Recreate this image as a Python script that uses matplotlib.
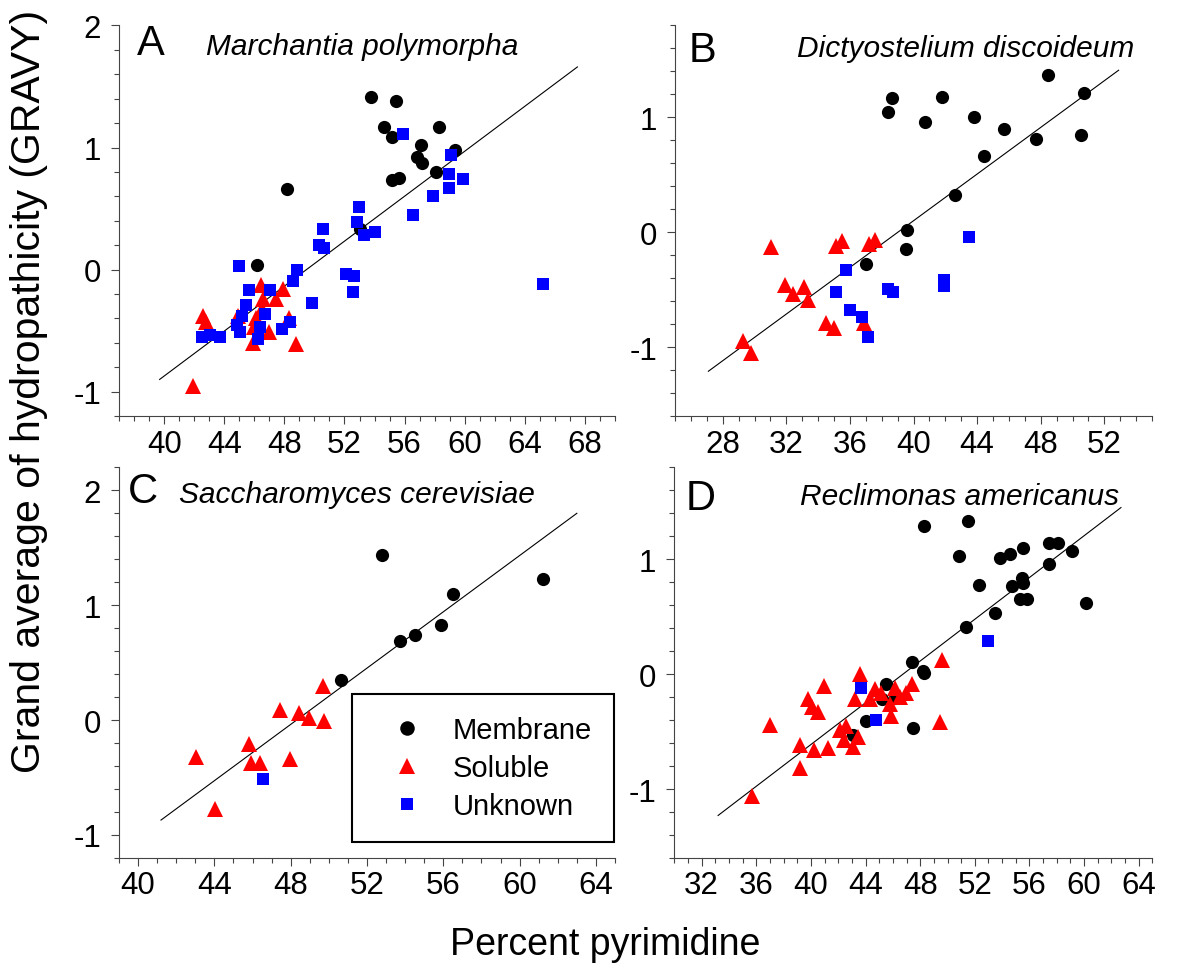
import numpy as np
import matplotlib
matplotlib.use("Agg")
import matplotlib.pyplot as plt
from matplotlib.ticker import MultipleLocator

plt.rcParams['font.family'] = ['Liberation Sans', 'DejaVu Sans']
plt.rcParams['axes.unicode_minus'] = False

# ---- data ----
# A  Marchantia polymorpha
a_mem_x = [53.75, 55.41, 54.61, 58.31, 55.17, 57.12, 59.36, 56.81, 57.18, 58.09, 55.19, 55.65, 48.16, 53.02, 46.21]
a_mem_y = [1.41, 1.38, 1.17, 1.17, 1.09, 1.02, 0.98, 0.92, 0.87, 0.80, 0.73, 0.75, 0.66, 0.33, 0.04]
a_sol_x = [46.45, 47.89, 46.56, 47.45, 42.57, 42.79, 44.90, 46.12, 48.33, 47.00, 45.90, 48.78, 41.90, 46.5, 46.0]
a_sol_y = [-0.13, -0.16, -0.24, -0.24, -0.38, -0.43, -0.38, -0.40, -0.40, -0.51, -0.60, -0.61, -0.95, -0.32, -0.47]
a_unk_x = [55.9, 59.09, 58.98, 59.87, 58.98, 57.87, 56.59, 52.99, 52.84, 53.30, 54.01, 50.6, 50.31, 50.67,
           48.87, 48.58, 49.87, 52.08, 52.62, 52.6, 65.21, 45.01, 45.63, 47.07, 45.48, 45.19, 46.7, 44.83,
           45.08, 46.41, 46.25, 48.38, 47.83, 42.51, 43.04, 43.7]
a_unk_y = [1.11, 0.94, 0.78, 0.74, 0.67, 0.60, 0.45, 0.51, 0.39, 0.28, 0.31, 0.33, 0.20, 0.18,
           0.00, -0.09, -0.27, -0.04, -0.05, -0.18, -0.12, 0.03, -0.17, -0.17, -0.29, -0.38, -0.36, -0.45,
           -0.51, -0.47, -0.57, -0.43, -0.49, -0.55, -0.54, -0.55]
a_fit_x = [39.7, 67.5]
a_fit_y = [-0.90, 1.66]

# B  Dictyostelium discoideum
b_mem_x = [48.48, 50.74, 38.64, 41.78, 38.39, 40.75, 43.83, 45.72, 47.71, 50.53, 44.42, 42.62, 39.58, 39.5, 37.0]
b_mem_y = [1.37, 1.21, 1.17, 1.18, 1.05, 0.96, 1.00, 0.90, 0.81, 0.85, 0.66, 0.32, 0.02, -0.15, -0.28]
b_sol_x = [29.26, 29.78, 31.04, 31.94, 32.42, 33.09, 33.36, 35.1, 35.52, 37.17, 37.61, 34.51, 35.02, 36.9]
b_sol_y = [-0.95, -1.05, -0.13, -0.46, -0.54, -0.48, -0.59, -0.12, -0.08, -0.10, -0.07, -0.79, -0.83, -0.79]
b_unk_x = [43.52, 35.77, 35.14, 35.98, 36.77, 37.11, 38.39, 38.68, 41.89, 41.93]
b_unk_y = [-0.04, -0.33, -0.52, -0.68, -0.74, -0.91, -0.49, -0.52, -0.42, -0.47]
b_fit_x = [27.1, 52.9]
b_fit_y = [-1.21, 1.41]

# C  Saccharomyces cerevisiae
c_mem_x = [52.81, 61.21, 56.52, 55.86, 54.51, 53.72, 50.65]
c_mem_y = [1.44, 1.23, 1.10, 0.83, 0.74, 0.69, 0.35]
c_sol_x = [49.67, 47.45, 48.44, 48.95, 49.74, 45.82, 43.02, 45.93, 46.38, 47.97, 44.02]
c_sol_y = [0.30, 0.09, 0.06, 0.02, -0.01, -0.21, -0.32, -0.37, -0.37, -0.34, -0.77]
c_unk_x = [46.57]
c_unk_y = [-0.51]
c_fit_x = [41.2, 63.0]
c_fit_y = [-0.87, 1.80]

# D  Reclimonas americanus
d_mem_x = [48.27, 51.51, 50.83, 53.85, 54.59, 55.54, 57.46, 58.12, 59.1, 57.44, 55.44, 55.54, 54.71, 52.34,
           55.29, 55.85, 60.17, 53.51, 51.37, 47.37, 48.24, 48.3, 45.49, 44.0, 47.49, 45.17, 46.15, 43.1]
d_mem_y = [1.29, 1.33, 1.03, 1.01, 1.05, 1.10, 1.14, 1.14, 1.07, 0.96, 0.84, 0.79, 0.77, 0.78,
           0.65, 0.65, 0.62, 0.53, 0.41, 0.11, 0.03, 0.01, -0.09, -0.41, -0.47, -0.22, -0.21, -0.53]
d_sol_x = [35.66, 37.02, 39.2, 39.2, 40.22, 41.27, 39.78, 40.05, 40.54, 40.93, 43.59, 43.22, 42.12, 42.54,
           42.41, 43.05, 43.46, 44.32, 44.71, 45.1, 45.78, 46.15, 46.51, 46.95, 47.37, 45.83, 49.63, 49.44]
d_sol_y = [-1.06, -0.44, -0.82, -0.62, -0.66, -0.64, -0.22, -0.29, -0.33, -0.10, 0.00, -0.22, -0.49, -0.45,
           -0.57, -0.63, -0.55, -0.22, -0.13, -0.16, -0.26, -0.12, -0.20, -0.16, -0.09, -0.36, 0.12, -0.42]
d_unk_x = [52.98, 43.63, 44.73]
d_unk_y = [0.29, -0.12, -0.40]
d_fit_x = [33.2, 62.7]
d_fit_y = [-1.23, 1.45]

panels = [
    dict(letter='A', name='Marchantia polymorpha', mem=(a_mem_x, a_mem_y), sol=(a_sol_x, a_sol_y),
         unk=(a_unk_x, a_unk_y), fit=(a_fit_x, a_fit_y), xlim=(37, 70), ylim=(-1.2, 2.0),
         xticks=np.arange(40, 69, 4), yticks=[-1, 0, 1, 2],
         rect=[0.0992, 0.574, 0.4133, 0.399], lpos=(0.036, 0.927), npos=(0.175, 0.927)),
    dict(letter='B', name='Dictyostelium discoideum', mem=(b_mem_x, b_mem_y), sol=(b_sol_x, b_sol_y),
         unk=(b_unk_x, b_unk_y), fit=(b_fit_x, b_fit_y), xlim=(25, 55), ylim=(-1.6, 1.8),
         xticks=np.arange(28, 53, 4), yticks=[-1, 0, 1],
         rect=[0.5625, 0.574, 0.3975, 0.399], lpos=(0.028, 0.91), npos=(0.255, 0.923)),
    dict(letter='C', name='Saccharomyces cerevisiae', mem=(c_mem_x, c_mem_y), sol=(c_sol_x, c_sol_y),
         unk=(c_unk_x, c_unk_y), fit=(c_fit_x, c_fit_y), xlim=(39, 65), ylim=(-1.2, 2.2),
         xticks=np.arange(40, 65, 4), yticks=[-1, 0, 1, 2],
         rect=[0.0992, 0.1226, 0.4133, 0.399], lpos=(0.018, 0.912), npos=(0.12, 0.912)),
    dict(letter='D', name='Reclimonas americanus', mem=(d_mem_x, d_mem_y), sol=(d_sol_x, d_sol_y),
         unk=(d_unk_x, d_unk_y), fit=(d_fit_x, d_fit_y), xlim=(30, 65), ylim=(-1.6, 1.8),
         xticks=np.arange(32, 65, 4), yticks=[-1, 0, 1],
         rect=[0.562, 0.1226, 0.3983, 0.399], lpos=(0.024, 0.894), npos=(0.263, 0.905)),
]

fig = plt.figure(figsize=(12, 9.79), dpi=100)
axes = []
for p in panels:
    ax = fig.add_axes(p['rect'])
    axes.append(ax)
    ax.plot(p['fit'][0], p['fit'][1], color='black', linewidth=0.8, zorder=1)
    ax.plot(p['mem'][0], p['mem'][1], 'o', color='black', markersize=9.5, markeredgewidth=0,
            linestyle='none', label='Membrane', zorder=2)
    ax.plot(p['sol'][0], p['sol'][1], '^', color='#ff0000', markersize=11, markeredgewidth=0,
            linestyle='none', label='Soluble', zorder=3)
    ax.plot(p['unk'][0], p['unk'][1], 's', color='#0000ff', markersize=8.5, markeredgewidth=0,
            linestyle='none', label='Unknown', zorder=4)

    ax.set_xlim(*p['xlim'])
    ax.set_ylim(*p['ylim'])
    ax.set_xticks(p['xticks'])
    ax.set_yticks(p['yticks'])
    ax.xaxis.set_minor_locator(MultipleLocator(1))
    ax.yaxis.set_minor_locator(MultipleLocator(0.2))
    for side in ['top', 'right']:
        ax.spines[side].set_visible(False)
    for side in ['left', 'bottom']:
        ax.spines[side].set_linewidth(0.8)
        ax.spines[side].set_color('#444444')
    ax.tick_params(which='major', length=6, width=0.8, color='#444444', labelsize=22.5, pad=3)
    ax.tick_params(which='minor', length=3.5, width=0.8, color='#444444')
    ax.tick_params(axis='y', pad=7)

    ax.text(p['lpos'][0], p['lpos'][1], p['letter'], transform=ax.transAxes, fontsize=30,
            ha='left', va='baseline')
    ax.text(p['npos'][0], p['npos'][1], p['name'], transform=ax.transAxes, fontsize=21.5,
            style='italic', ha='left', va='baseline')

leg = axes[2].legend(loc='lower right', bbox_to_anchor=(0.997, 0.04), fontsize=21, frameon=True,
                     fancybox=False, edgecolor='black', borderpad=0.75, handlelength=2.3,
                     handletextpad=0.4, labelspacing=0.35, borderaxespad=0, markerscale=1.1)
leg.get_frame().set_linewidth(1.5)
leg.get_frame().set_alpha(1)

fig.text(0.024, 0.6, 'Grand average of hydropathicity (GRAVY)', rotation=90, fontsize=29.5,
         ha='center', va='center')
fig.text(0.504, 0.0245, 'Percent pyrimidine', fontsize=27, ha='center', va='baseline')

fig.savefig('out.png', dpi=100)
